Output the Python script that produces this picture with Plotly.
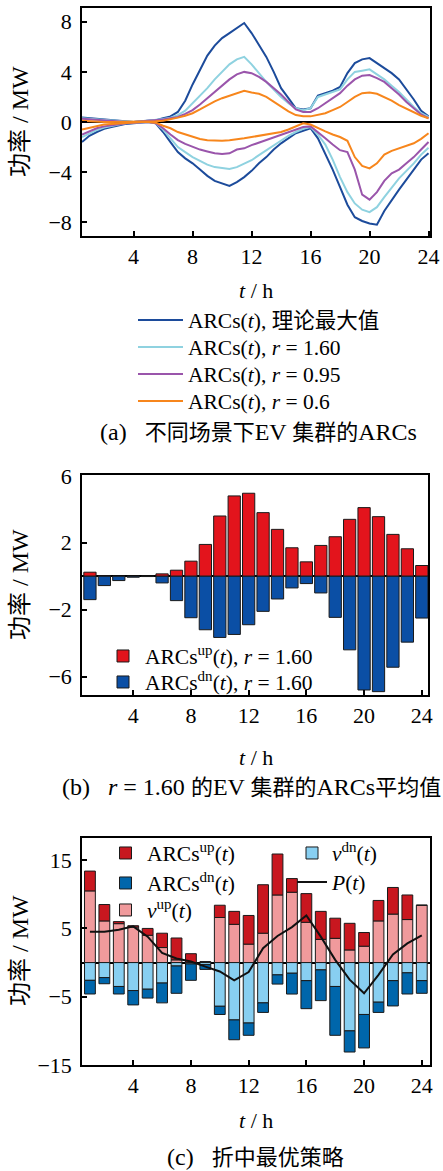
import plotly.graph_objects as go

# ---------------- Panel (a) data ----------------
T_A = [0.5, 1, 1.5, 2, 2.5, 3, 3.5, 4, 4.5, 5, 5.5, 6, 6.5, 7, 7.5, 8, 8.5, 9, 9.5, 10,
       10.5, 11, 11.5, 12, 12.5, 13, 13.5, 14, 14.5, 15, 15.5, 16, 16.5, 17, 17.5, 18,
       18.5, 19, 19.5, 20, 20.5, 21, 21.5, 22, 22.5, 23, 23.5, 24]

max_up = [0.35, 0.3, 0.25, 0.2, 0.15, 0.1, 0.05, 0.0, 0.05, 0.1, 0.15, 0.3, 0.45, 0.8, 1.7, 3.0,
          4.2, 5.3, 6.1, 6.7, 7.1, 7.5, 7.9, 7.1, 6.2, 5.2, 4.0, 2.7, 1.9, 1.1, 1.0, 1.1, 2.1,
          2.3, 2.5, 2.8, 3.9, 4.7, 5.0, 5.1, 4.7, 4.3, 3.9, 3.4, 2.6, 1.8, 0.9, 0.45]
max_dn = [-1.6, -1.1, -0.8, -0.55, -0.4, -0.25, -0.15, -0.1, -0.05, 0.0, -0.1, -0.8, -1.6,
          -2.4, -2.9, -3.3, -3.8, -4.3, -4.7, -4.9, -5.1, -4.8, -4.4, -3.9, -3.3, -2.8, -2.2,
          -1.7, -1.3, -0.9, -0.7, -0.5, -1.3, -2.5, -3.8, -5.2, -6.6, -7.6, -7.9, -8.1, -8.2,
          -7.1, -6.2, -5.4, -4.6, -3.8, -3.0, -2.5]

r160_up = [0.3, 0.25, 0.2, 0.15, 0.1, 0.05, 0.05, 0.0, 0.05, 0.1, 0.15, 0.25, 0.35, 0.55, 0.9,
           1.5, 2.1, 2.7, 3.4, 4.0, 4.6, 5.0, 5.2, 4.6, 3.9, 3.2, 2.6, 2.0, 1.5, 1.1, 0.95, 1.1,
           2.0, 2.2, 2.4, 2.6, 3.4, 4.0, 4.1, 4.2, 3.8, 3.4, 2.9, 2.4, 1.8, 1.2, 0.7, 0.4]
r160_dn = [-1.2, -0.9, -0.65, -0.45, -0.3, -0.2, -0.1, -0.05, -0.05, 0.0, -0.1, -0.6, -1.3,
           -2.0, -2.4, -2.8, -3.1, -3.4, -3.6, -3.7, -3.75, -3.6, -3.35, -3.05, -2.65, -2.25,
           -1.85, -1.45, -1.1, -0.8, -0.55, -0.4, -1.0, -1.8, -3.0, -4.4, -5.6, -6.5, -7.0,
           -7.2, -6.8, -6.0, -5.2, -4.5, -3.9, -3.3, -2.6, -2.05]

r095_up = [0.25, 0.2, 0.15, 0.1, 0.05, 0.05, 0.0, 0.0, 0.05, 0.05, 0.1, 0.2, 0.3, 0.4, 0.65,
           0.95, 1.4, 1.9, 2.4, 2.95, 3.4, 3.8, 4.0, 3.9, 3.6, 3.2, 2.7, 2.2, 1.6, 1.0, 0.8, 0.8,
           1.1, 1.5, 1.9, 2.3, 2.9, 3.4, 3.7, 3.75, 3.5, 3.2, 2.7, 2.2, 1.6, 1.1, 0.6, 0.3]
r095_dn = [-1.0, -0.75, -0.5, -0.35, -0.25, -0.15, -0.1, -0.05, -0.05, 0.0, -0.1, -0.5, -1.0,
           -1.45, -1.75, -2.0, -2.2, -2.35, -2.5, -2.55, -2.5, -2.2, -2.1, -1.85, -1.65, -1.45,
           -1.25, -1.05, -0.85, -0.6, -0.4, -0.35, -0.8, -1.3, -1.8, -2.25, -2.4, -3.8, -5.8,
           -6.2, -5.6, -4.7, -4.1, -3.8, -3.3, -2.8, -2.2, -1.6]

r06_up = [0.1, 0.05, 0.05, 0.0, 0.0, 0.0, 0.0, 0.0, 0.0, 0.0, 0.05, 0.1, 0.2, 0.35, 0.5, 0.7,
          1.0, 1.35, 1.65, 1.9, 2.1, 2.3, 2.5, 2.35, 2.25, 2.0, 1.6, 1.2, 0.85, 0.55, 0.45, 0.45,
          0.55, 0.7, 0.95, 1.2, 1.6, 2.0, 2.3, 2.35, 2.25, 2.0, 1.7, 1.35, 1.05, 0.8, 0.5, 0.3]
r06_dn = [-0.6, -0.45, -0.3, -0.2, -0.15, -0.1, -0.05, 0.0, 0.0, 0.0, -0.05, -0.3, -0.5, -0.8,
          -1.0, -1.2, -1.35, -1.45, -1.5, -1.5, -1.45, -1.4, -1.3, -1.2, -1.1, -1.0, -0.9, -0.8,
          -0.6, -0.35, -0.1, -0.2, -0.5, -0.75, -1.0, -1.2, -1.5, -2.8, -3.5, -3.7, -3.3, -2.6,
          -2.3, -2.1, -1.95, -1.7, -1.35, -0.9]

# ---------------- Panel (b) data ----------------
HOURS = list(range(1, 25))
b_up = [0.24, 0.02, 0.0, 0.0, 0.0, 0.14, 0.36, 0.9, 1.9, 3.6, 4.8, 4.96, 3.8, 2.8, 1.7, 0.86,
        1.84, 2.36, 3.4, 4.1, 3.56, 2.5, 1.64, 0.64]
b_dn = [-1.4, -0.56, -0.26, -0.06, -0.02, -0.4, -1.46, -2.48, -3.2, -3.66, -3.48, -2.9, -2.1,
        -1.36, -0.7, -0.44, -1.0, -2.46, -4.4, -6.8, -6.9, -5.44, -3.94, -2.5]

# ---------------- Panel (c) data ----------------
v_up = [10.5, 6.1, 5.7, 5.2, 4.0, 2.2, 0.4, 0.0, 0.0, 6.6, 5.6, 2.7, 4.3, 9.9, 10.3, 5.9,
        3.4, 3.55, 1.85, 2.4, 6.1, 7.1, 6.3, 8.4]
arcs_up = [2.9, 2.4, 0.3, 0.2, 1.0, 2.1, 3.2, 1.3, 0.15, 1.8, 1.9, 4.2, 7.1, 6.0, 2.0, 4.2,
           4.1, 2.95, 3.9, 2.0, 3.0, 3.9, 3.6, 0.0]
v_dn = [-2.6, -2.2, -3.5, -4.1, -3.9, -3.0, -0.5, -0.2, -0.3, -6.4, -8.4, -8.85, -5.9, -1.8,
        -1.56, -2.65, -1.07, -3.5, -10.0, -7.6, -5.8, -2.65, -1.5, -2.65]
arcs_dn = [-2.0, -0.9, -1.1, -2.1, -1.3, -2.9, -4.0, -2.4, -0.7, -1.2, -2.9, -1.8, -1.4, -1.35,
           -3.05, -4.1, -4.5, -7.15, -3.1, -4.9, -1.5, -3.7, -3.1, -1.85]
P_line = [4.5, 4.5, 4.8, 5.3, 3.8, 1.4, 0.6, 0.15, -0.6, -1.3, -2.6, -1.4, 2.1, 3.9, 5.2, 6.9,
          3.8, 0.4, -2.5, -4.5, -1.8, 1.2, 2.8, 4.0]

X_TICKS = [4, 8, 12, 16, 20, 24]
Y_TICKS_A = [-8, -4, 0, 4, 8]
Y_TICKS_B = [-6, -2, 2, 6]
Y_TICKS_C = [-15, -5, 5, 15]

# ---------------- figure ----------------
W, H = 443, 1171
FONT = "Liberation Serif, Noto Sans CJK SC, serif"
LEG_SIZE = 21.5

def px(xp):
    return xp / W

def py(yp):
    return 1 - yp / H

fig = go.Figure()
legends = {}

def leg(key, x_left, y_center, itemwidth):
    legends[key] = dict(bgcolor="rgba(0,0,0,0)", borderwidth=0,
                        font=dict(family=FONT, size=LEG_SIZE, color="black"),
                        xanchor="left", yanchor="middle", x=px(x_left), y=py(y_center),
                        itemwidth=itemwidth, tracegroupgap=0)
    return key

C_DARK = "#1c4b9b"
C_LIGHT = "#8fd2e0"
C_PURP = "#9a55ab"
C_ORNG = "#f7861c"

series_a = [
    ("ARCs(<i>t</i>), 理论最大值", max_up, max_dn, C_DARK, 320),
    ("ARCs(<i>t</i>), <i>r</i> = 1.60", r160_up, r160_dn, C_LIGHT, 347),
    ("ARCs(<i>t</i>), <i>r</i> = 0.95", r095_up, r095_dn, C_PURP, 374),
    ("ARCs(<i>t</i>), <i>r</i> = 0.6", r06_up, r06_dn, C_ORNG, 401),
]
for i, (name, up, dn, col, ly) in enumerate(series_a):
    key = leg("legend" if i == 0 else f"legend{i + 1}", 133, ly, 45)
    fig.add_trace(go.Scatter(x=T_A, y=up, mode="lines", line=dict(color=col, width=2),
                             name=name, legendgroup=f"a{i}", legend=key,
                             xaxis="x", yaxis="y"))
    fig.add_trace(go.Scatter(x=T_A, y=dn, mode="lines", line=dict(color=col, width=2),
                             name=name, legendgroup=f"a{i}", showlegend=False,
                             xaxis="x", yaxis="y"))

EDGE = dict(color="#1a1a1a", width=1)
fig.add_trace(go.Bar(x=HOURS, y=b_up, width=0.85, marker=dict(color="#e3141c", line=EDGE),
                     name="ARCs<sup>up</sup>(<i>t</i>), <i>r</i> = 1.60",
                     legend=leg("legend5", 101, 656, 34), xaxis="x2", yaxis="y2"))
fig.add_trace(go.Bar(x=HOURS, y=b_dn, width=0.85, marker=dict(color="#0b4fa5", line=EDGE),
                     name="ARCs<sup>dn</sup>(<i>t</i>), <i>r</i> = 1.60",
                     legend=leg("legend6", 101, 682, 34), xaxis="x2", yaxis="y2"))

fig.add_trace(go.Bar(x=HOURS, y=v_up, width=0.75, marker=dict(color="#f09a9c", line=EDGE),
                     name="<i>v</i><sup>up</sup>(<i>t</i>)",
                     legend=leg("legend9", 104, 910, 33), xaxis="x3", yaxis="y3"))
fig.add_trace(go.Bar(x=HOURS, y=arcs_up, width=0.75, marker=dict(color="#c8171f", line=EDGE),
                     name="ARCs<sup>up</sup>(<i>t</i>)",
                     legend=leg("legend7", 104, 853, 33), xaxis="x3", yaxis="y3"))
fig.add_trace(go.Bar(x=HOURS, y=v_dn, width=0.75, marker=dict(color="#88cff1", line=EDGE),
                     name="<i>v</i><sup>dn</sup>(<i>t</i>)",
                     legend=leg("legend10", 292, 853, 30), xaxis="x3", yaxis="y3"))
fig.add_trace(go.Bar(x=HOURS, y=arcs_dn, width=0.75, marker=dict(color="#0066ab", line=EDGE),
                     name="ARCs<sup>dn</sup>(<i>t</i>)",
                     legend=leg("legend8", 104, 883, 33), xaxis="x3", yaxis="y3"))
fig.add_trace(go.Scatter(x=HOURS, y=P_line, mode="lines", line=dict(color="#111111", width=2),
                         name="<i>P</i>(<i>t</i>)",
                         legend=leg("legend11", 292, 882, 30), xaxis="x3", yaxis="y3"))

axis_common = dict(showline=True, linecolor="black", linewidth=1.5, mirror=True,
                   ticks="inside", ticklen=5, tickwidth=1.5, tickcolor="black",
                   showgrid=False, zeroline=False,
                   tickfont=dict(family=FONT, size=22, color="black"))

def xax(domain, rng, anchor):
    d = dict(axis_common)
    d.update(domain=domain, range=rng, tickvals=X_TICKS, anchor=anchor)
    return d

def yax(domain, rng, tv, anchor):
    d = dict(axis_common)
    d.update(domain=domain, range=rng, tickvals=tv, anchor=anchor,
             zeroline=True, zerolinecolor="black", zerolinewidth=1.5,
             ticklabelstandoff=4)
    return d

fig.update_layout(
    width=W, height=H, margin=dict(l=0, r=0, t=0, b=0, autoexpand=False),
    paper_bgcolor="white", plot_bgcolor="white",
    barmode="relative",
    font=dict(family=FONT, size=20, color="black"),
    xaxis=xax([px(82), px(430)], [0.5, 24.1], "y"),
    yaxis=yax([py(236), py(8)], [-9.1, 9.1], Y_TICKS_A, "x"),
    xaxis2=xax([px(82), px(428)], [0.45, 24.43], "y2"),
    yaxis2=yax([py(695), py(475)], [-7.1, 6.05], Y_TICKS_B, "x2"),
    xaxis3=xax([px(82), px(430)], [0.45, 24.57], "y3"),
    yaxis3=yax([py(1065), py(838.3)], [-15, 18.2], Y_TICKS_C, "x3"),
    showlegend=True,
    **legends,
)

def ann(text, xp, yp, size=22, angle=0, xanchor="center"):
    fig.add_annotation(text=text, x=px(xp), y=py(yp), xref="paper", yref="paper",
                       showarrow=False, textangle=angle, xanchor=xanchor, yanchor="middle",
                       font=dict(family=FONT, size=size, color="black"))

def big(s):
    return f'<span style="font-size:24px">{s}</span>'

for yc in (122, 585, 951):
    ann("功率 / MW", 20, yc, size=24, angle=-90)
for yc in (290, 757, 1120):
    ann("<i>t</i> / h", 256, yc)
ann(big("(a)\u2002 ") + "不同场景下" + big("EV ") + "集群的" + big("ARCs"), 258, 432)
ann(big("(b)\u2002 <i>r</i> = 1.60 ") + "的" + big("EV ") + "集群的" + big("ARCs") + "平均值",
    60, 787, xanchor="left")
ann(big("(c)\u2002 ") + "折中最优策略", 256, 1157)

fig.write_html("out.html", config={"displayModeBar": False},
               post_script="document.body.style.margin='0';document.body.style.padding='0';")
